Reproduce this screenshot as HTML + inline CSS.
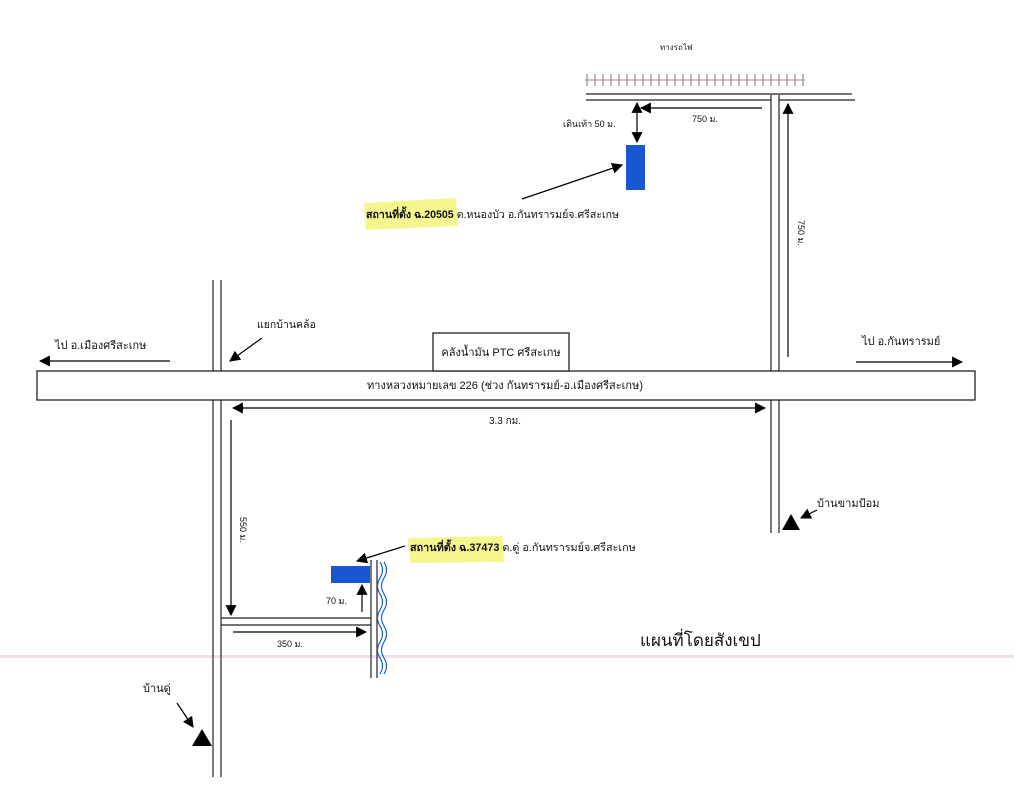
<!DOCTYPE html>
<html><head><meta charset="utf-8">
<style>
html,body{margin:0;padding:0;background:#fff;}
svg{display:block;}
text{font-family:"Liberation Sans","DejaVu Sans",sans-serif;fill:#111;}
</style></head>
<body>
<svg width="1014" height="800" viewBox="0 0 1014 800" xmlns="http://www.w3.org/2000/svg">
<defs>
<marker id="b" viewBox="0 0 10 10" refX="9" refY="5" markerWidth="11" markerHeight="11" orient="auto-start-reverse" markerUnits="userSpaceOnUse"><path d="M0,0 L10,5 L0,10 z" fill="#000"/></marker>
</defs>
<rect x="0" y="655" width="1014" height="3" fill="#f0dfea"/>
<text x="660" y="50" font-size="8">ทางรถไฟ</text>
<line x1="585" y1="80" x2="805" y2="80" stroke="#c9b0b0" stroke-width="1.5"/>
<g stroke="#988" stroke-width="1.2">
<path d="M587 74v12M595 74v12M603 74v12M611 74v12M619 74v12M627 74v12M635 74v12M643 74v12M651 74v12M659 74v12M667 74v12M675 74v12M683 74v12M691 74v12M699 74v12M707 74v12M715 74v12M723 74v12M731 74v12M739 74v12M747 74v12M755 74v12M763 74v12M771 74v12M779 74v12M787 74v12M795 74v12M803 74v12"/>
</g>
<g stroke="#222" stroke-width="1.2" fill="none">
<path d="M586 94H852M586 100H771M779 100H855"/>
<path d="M771 95V371M779 95V371M771 400V533M779 400V533"/>
<path d="M213 280V371M221 280V371M213 400V777M221 400V777"/>
<path d="M221 618H371M221 625H371"/>
<path d="M371 560V678M377 560V678"/>
</g>
<path d="M380 562 q5 8 0 16 q-5 8 0 16 q5 8 0 16 q-5 8 0 16 q5 8 0 16 q-5 8 0 16 q5 8 0 16" stroke="#1d5fd0" stroke-width="1.2" fill="none"/>
<path d="M384 562 q5 8 0 16 q-5 8 0 16 q5 8 0 16 q-5 8 0 16 q5 8 0 16 q-5 8 0 16 q5 8 0 16" stroke="#1d5fd0" stroke-width="1.2" fill="none"/>
<rect x="626" y="145" width="19" height="45" fill="#1a56d0"/>
<rect x="331" y="566" width="39" height="17" fill="#1a56d0"/>
<g stroke="#000" stroke-width="1.2" fill="none">
<line x1="637" y1="103" x2="637" y2="142" marker-start="url(#b)" marker-end="url(#b)"/>
<line x1="762" y1="108" x2="641" y2="108" marker-end="url(#b)"/>
<line x1="788" y1="357" x2="788" y2="104" marker-end="url(#b)"/>
<line x1="522" y1="199" x2="622" y2="165" marker-end="url(#b)"/>
<line x1="170" y1="361" x2="40" y2="361" marker-end="url(#b)"/>
<line x1="856" y1="362" x2="962" y2="362" marker-end="url(#b)"/>
<line x1="262" y1="338" x2="230" y2="361" marker-end="url(#b)"/>
<line x1="233" y1="408" x2="765" y2="408" marker-start="url(#b)" marker-end="url(#b)"/>
<line x1="231" y1="420" x2="231" y2="615" marker-end="url(#b)"/>
<line x1="233" y1="632" x2="366" y2="632" marker-end="url(#b)"/>
<line x1="362" y1="612" x2="362" y2="585" marker-end="url(#b)"/>
<line x1="405" y1="546" x2="357" y2="561" marker-end="url(#b)"/>
<line x1="817" y1="510" x2="801" y2="518" marker-end="url(#b)"/>
<line x1="177" y1="703" x2="193" y2="727" marker-end="url(#b)"/>
</g>
<polygon points="791,514 800,530 782,530" fill="#000"/>
<polygon points="202,729 212,746 192,746" fill="#000"/>
<rect x="37" y="371" width="938" height="29" fill="#fff" stroke="#222" stroke-width="1.3"/>
<rect x="433" y="333" width="136" height="38" fill="#fff" stroke="#222" stroke-width="1.3"/>
<text x="501" y="356" font-size="11" text-anchor="middle">คลังน้ำมัน PTC ศรีสะเกษ</text>
<text x="505" y="389" font-size="11" text-anchor="middle">ทางหลวงหมายเลข 226 (ช่วง กันทรารมย์-อ.เมืองศรีสะเกษ)</text>
<text x="505" y="424" font-size="10" text-anchor="middle">3.3 กม.</text>
<text x="55" y="349" font-size="11">ไป อ.เมืองศรีสะเกษ</text>
<text x="862" y="345" font-size="11">ไป อ.กันทรารมย์</text>
<text x="257" y="328" font-size="10.5">แยกบ้านคล้อ</text>
<text x="563" y="127" font-size="9">เดินเท้า 50 ม.</text>
<text x="692" y="122" font-size="9">750 ม.</text>
<text transform="translate(798,220) rotate(90)" font-size="9">750 ม.</text>
<text transform="translate(240,517) rotate(90)" font-size="9">550 ม.</text>
<text x="277" y="647" font-size="9">350 ม.</text>
<text x="326" y="604" font-size="9">70 ม.</text>
<path d="M364 203 L456 198 L458 226 L366 230 Z" fill="#f5f57a" opacity="0.85"/>
<text x="366" y="218" font-size="10.6"><tspan font-weight="bold">สถานที่ตั้ง ฉ.20505 </tspan>ต.หนองบัว อ.กันทรารมย์จ.ศรีสะเกษ</text>
<path d="M408 538 L503 536 L504 562 L410 563 Z" fill="#f5f57a" opacity="0.85"/>
<text x="410" y="551" font-size="10.8"><tspan font-weight="bold">สถานที่ตั้ง ฉ.37473 </tspan>ต.ดู่ อ.กันทรารมย์จ.ศรีสะเกษ</text>
<text x="640" y="646" font-size="17">แผนที่โดยสังเขป</text>
<text x="817" y="507" font-size="11">บ้านขามป้อม</text>
<text x="143" y="692" font-size="11">บ้านดู่</text>
</svg>
</body></html>
